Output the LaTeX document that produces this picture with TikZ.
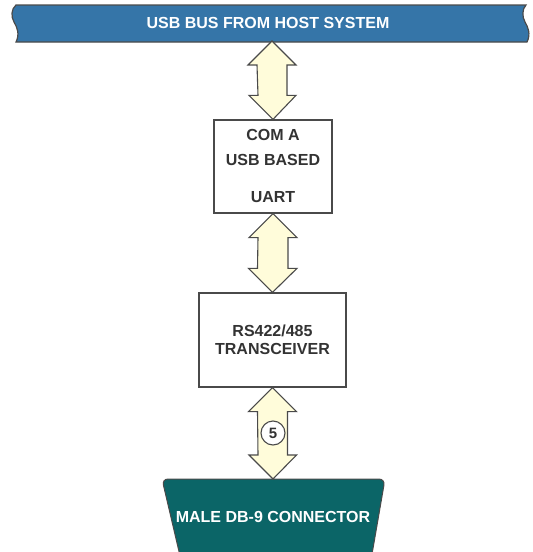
\documentclass[tikz,border=0pt]{standalone}
\usepackage{fontspec}
\setmainfont{Liberation Sans}
\usetikzlibrary{calc}
\definecolor{bannerblue}{HTML}{3575A8}
\definecolor{connteal}{HTML}{0B6567}
\definecolor{arrowfill}{HTML}{FFFCDA}
\definecolor{edgegray}{HTML}{4A4A4A}
\definecolor{textgray}{HTML}{333333}
\tikzset{
  blockbox/.style={draw=edgegray, line width=1.3pt, fill=white, inner sep=0pt},
  blocktext/.style={text=textgray, font=\fontsize{16}{19}\selectfont\bfseries, inner sep=0pt},
  fatarrow/.style={draw=edgegray, line width=1.1pt, fill=arrowfill, line join=miter},
  countcircle/.style={circle, draw=edgegray, line width=1.1pt, fill=white, text=textgray,
    minimum size=24pt, inner sep=0pt, font=\fontsize{15}{17}\selectfont\bfseries},
  whitelabel/.style={text=white, font=\fontsize{16}{19}\selectfont\bfseries, inner sep=0pt}
}
\newcommand{\dblarrow}[2]{%
  \draw[fatarrow] let \p1=(#1), \p2=(#2) in
    (\x1,\y1) -- ++(24pt,-24pt) -- ++(-9pt,0) -- (\x1+15pt,\y2+24pt) -- ++(9pt,0)
    -- (\x2,\y2) -- ++(-24pt,24pt) -- ++(9pt,0) -- (\x1-15pt,\y1-24pt) -- ++(-9pt,0) -- cycle;}
\begin{document}
\begin{tikzpicture}[x=1pt,y=-1pt]
\useasboundingbox (0,0) rectangle (533,552);
% banner
\draw[fill=bannerblue, draw=edgegray, line width=1.2pt]
  (16,5) .. controls (11,9) and (11,17) .. (14,22)
  .. controls (17,27) and (20,34) .. (16,42)
  -- (527,42) .. controls (531,34) and (528,27) .. (525,22)
  .. controls (522,17) and (522,9) .. (526,5) -- cycle;
\node[whitelabel] (bus) at (268,23) {USB BUS FROM HOST SYSTEM};
\coordinate (busb) at (272,41);
% box 1
\node[blockbox, minimum width=118pt, minimum height=93pt] (uart) at (273,166.5) {};
\node[blocktext] (t1) at (273,135) {COM A};
\node[blocktext] (t2) at (273,160) {USB BASED};
\node[blocktext] (t3) at (273,197) {UART};
% box 2
\node[blockbox, minimum width=147pt, minimum height=94pt] (xcvr) at (272.5,340) {};
\node[blocktext] (t4) at (272.5,331) {RS422/485};
\node[blocktext] (t5) at (272.5,349) {TRANSCEIVER};
% connector
\draw[fill=connteal, draw=edgegray, line width=1pt, rounded corners=6pt]
  (181,560) -- (162,479) -- (385,479) -- (371,560);
\node[whitelabel] (db9) at (273,517) {MALE DB-9 CONNECTOR};
\coordinate (dbt) at (273,479);
% arrows
\dblarrow{busb}{uart.north}
\dblarrow{uart.south}{xcvr.north}
\dblarrow{xcvr.south}{dbt}
\node[countcircle] (five) at (273,433) {5};
\end{tikzpicture}
\end{document}
